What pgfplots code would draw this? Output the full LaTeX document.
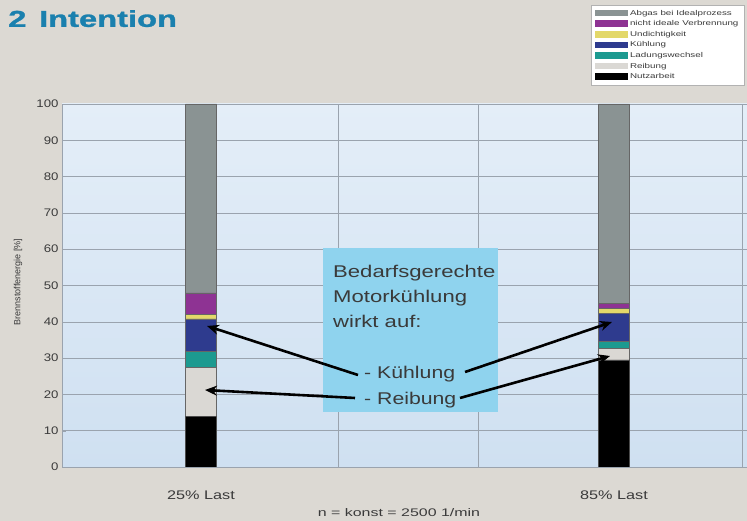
\documentclass[border=0pt]{standalone}
\usepackage{pgfplots}
\pgfplotsset{compat=1.18}
\usepackage{fontspec}
\setmainfont{Liberation Sans}
\newfontfamily\titlefont{Liberation Sans Bold}[FakeBold=1.2]
\usetikzlibrary{arrows.meta}

\definecolor{pagebg}{HTML}{DCD9D3}
\definecolor{titleblue}{HTML}{1A80AE}
\definecolor{plottop}{HTML}{E4EEF8}
\definecolor{plotbot}{HTML}{CFE0F1}
\definecolor{gridc}{HTML}{9AA3AE}
\definecolor{boxblue}{HTML}{8FD3EE}
\definecolor{txt}{HTML}{3A3A3A}
% segment colours
\definecolor{cNutz}{HTML}{000000}
\definecolor{cReib}{HTML}{DAD8D4}
\definecolor{cLad}{HTML}{1C9A90}
\definecolor{cKuehl}{HTML}{2E3B8E}
\definecolor{cUndicht}{HTML}{E3D86A}
\definecolor{cVerbr}{HTML}{8E3393}
\definecolor{cAbgas}{HTML}{8A9393}

% the slide's lettering is set wide
\newcommand{\wide}[2][1.3]{\scalebox{#1}[1]{#2}}

% energy balance, x = bar position, y = share of fuel energy in %
\pgfplotstableread{
x    y
139  14.0
552  29.5
}\nutz
\pgfplotstableread{
x    y
139  13.5
552  3.2
}\reib
\pgfplotstableread{
x    y
139  4.3
552  2.0
}\lad
\pgfplotstableread{
x    y
139  9.0
552  7.6
}\kuehl
\pgfplotstableread{
x    y
139  1.2
552  1.4
}\undicht
\pgfplotstableread{
x    y
139  6.0
552  1.4
}\verbr
\pgfplotstableread{
x    y
139  52.0
552  54.9
}\abgas

\begin{document}
\begin{tikzpicture}[x=1pt,y=1pt]
\useasboundingbox (0,0) rectangle (747,521);
\fill[pagebg] (0,0) rectangle (747,521);

\node[anchor=north west, inner sep=0, text=titleblue,
      font=\titlefont\fontsize{23}{23}\selectfont]
  at (8,511) {\wide[1.42]{2\hspace{9pt}Intention}};

\begin{axis}[
  at={(62pt,54pt)}, anchor=south west,
  scale only axis, width=685pt, height=363pt,
  xmin=0, xmax=685, ymin=0, ymax=100,
  axis background/.style={shade, top color=plottop, bottom color=plotbot},
  axis x line*=bottom, axis y line*=left,
  axis line style={gridc, line width=0.8pt},
  ybar stacked, bar width=31pt,
  ytick={0,10,...,100},
  ymajorgrids, major grid style={gridc, line width=0.5pt},
  ytick style={gridc}, major tick length=4pt,
  yticklabel style={font=\fontsize{11}{12}\selectfont, text=txt},
  yticklabel={\wide[1.2]{\pgfmathprintnumber{\tick}}},
  xtick={139,552}, xticklabels={\wide{25\% Last},\wide{85\% Last}},
  x tick style={draw=none},
  xticklabel style={font=\fontsize{12.5}{14}\selectfont, text=txt, yshift=-20pt},
  extra x ticks={276,416,680}, extra x tick labels={},
  extra x tick style={grid=major, xtick style={draw=gridc}},
  /pgf/number format/assume math mode=true,
  legend image code/.code={\fill[#1,draw=none] (0pt,-3pt) rectangle (33pt,3.5pt);},
  reverse legend,
  legend cell align=left,
  legend style={at={(rel axis cs:0.772,1.273)}, anchor=north west,
    fill=white, draw=gray!60, font=\fontsize{7}{7}\selectfont,
    text=txt, row sep=0pt, inner xsep=4pt, inner ysep=3pt,
    /tikz/every even column/.append style={column sep=3pt}},
]
\addplot[fill=cNutz, draw=black!70] table[x=x,y=y] {\nutz};
\addplot[fill=cReib, draw=black!60] table[x=x,y=y] {\reib};
\addplot[fill=cLad, draw=black!60] table[x=x,y=y] {\lad};
\addplot[fill=cKuehl, draw=black!60] table[x=x,y=y] {\kuehl};
\addplot[fill=cUndicht, draw=black!60] table[x=x,y=y] {\undicht};
\addplot[fill=cVerbr, draw=black!60] table[x=x,y=y] {\verbr};
\addplot[fill=cAbgas, draw=black!60] table[x=x,y=y] {\abgas};
\legend{\wide[1.4]{Nutzarbeit},\wide[1.4]{Reibung},\wide[1.4]{Ladungswechsel},
  \wide[1.4]{Kühlung},\wide[1.4]{Undichtigkeit},
  \wide[1.4]{nicht ideale Verbrennung},\wide[1.4]{Abgas bei Idealprozess}}
\end{axis}

% callout box
\fill[boxblue] (323,109) rectangle (498,273);
\node[anchor=north west, inner sep=0, align=left, text=txt,
      font=\fontsize{17}{25}\selectfont] at (333,256)
  {\wide{Bedarfsgerechte}\\\wide{Motorkühlung}\\\wide{wirkt auf:}};
\node[anchor=west, inner sep=0, text=txt, font=\fontsize{17}{20}\selectfont]
  at (364,147) {\wide[1.25]{- Kühlung}};
\node[anchor=west, inner sep=0, text=txt, font=\fontsize{17}{20}\selectfont]
  at (364,121) {\wide[1.25]{- Reibung}};

% arrows to the affected segments
\begin{scope}[line width=2.6pt, -{Stealth[length=12pt,width=10pt]}]
\draw (358,146) -- (207,195);
\draw (355,123) -- (205,131);
\draw (465,149) -- (612,199);
\draw (460,123) -- (610,165);
\end{scope}

% axis titles
\node[rotate=90, text=txt, font=\fontsize{9}{10}\selectfont] at (18,239)
  {Brennstoffenergie [\%]};
\node[text=txt, font=\fontsize{11}{12}\selectfont] at (399,8)
  {\wide[1.45]{n = konst = 2500 1/min}};
\end{tikzpicture}
\end{document}
